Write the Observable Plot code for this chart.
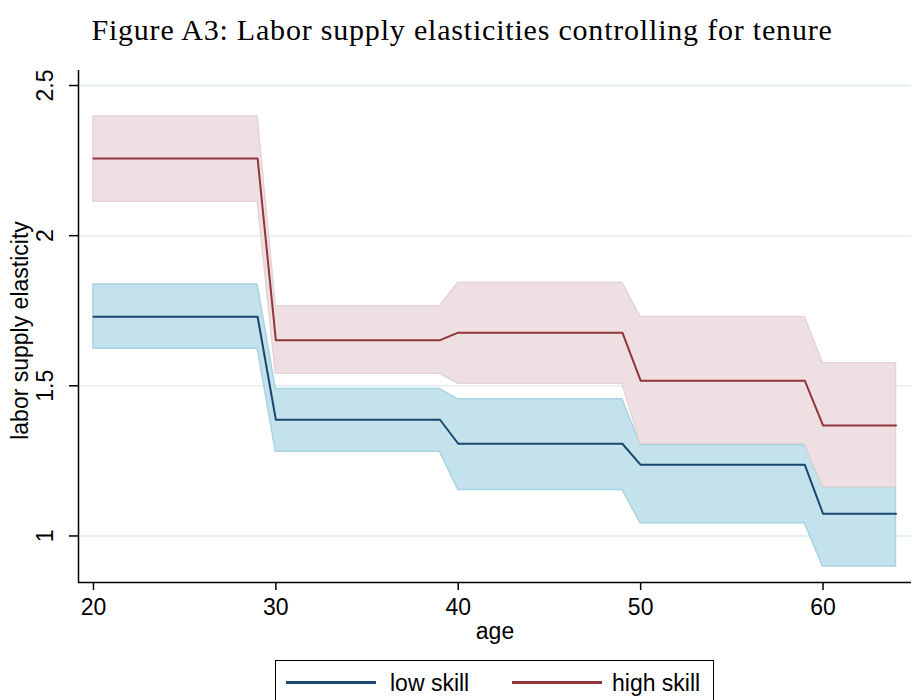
<!DOCTYPE html>
<html>
<head>
<meta charset="utf-8">
<script src="https://cdn.jsdelivr.net/npm/d3@7"></script>
<script src="https://cdn.jsdelivr.net/npm/@observablehq/plot@0.6"></script>
<style>
  html, body { margin: 0; padding: 0; background: #fff; }
  #wrap { position: relative; width: 924px; height: 700px; overflow: hidden; background: #fff; }
  #title { position: absolute; left: 0; top: 10px; width: 924px; text-align: center;
           font-family: "Liberation Serif", "DejaVu Serif", serif; font-size: 30px; line-height: 40px;
           letter-spacing: 0.8px; color: #000; }
  #chart { position: absolute; left: 0; top: 60px; }
  #legend { position: absolute; left: 275px; top: 660px; width: 439px; height: 60px;
            border: 1.5px solid #000; box-sizing: border-box; background: #fff;
            font-family: "Liberation Sans", Arial, sans-serif; font-size: 23px; color: #000; }
  .item { position: absolute; top: 10px; height: 24px; line-height: 24px; }
  .sw { position: absolute; top: 10px; width: 90px; height: 2.5px; }
</style>
</head>
<body>
<div id="wrap">
  <div id="title">Figure A3: Labor supply elasticities controlling for tenure</div>
  <div id="chart"></div>
  <div id="legend"></div>
</div>
<script>
// ---- data ----
const seriesNames = ["low skill", "high skill"];
const segStart = [20, 30, 40, 50, 60];
const segEnd   = [29, 39, 49, 59, 64];

const lowEst   = [1.730, 1.387, 1.307, 1.237, 1.074];
const lowUpper = [1.837, 1.489, 1.455, 1.303, 1.160];
const lowLower = [1.623, 1.280, 1.153, 1.042, 0.898];

const highEst   = [2.257, 1.652, 1.677, 1.517, 1.368];
const highUpper = [2.397, 1.765, 1.843, 1.729, 1.575];
const highLower = [2.113, 1.540, 1.507, 1.307, 1.162];

const xTicks = [20, 30, 40, 50, 60];
const yTicks = [1, 1.5, 2, 2.5];
const yTickLabels = ["1", "1.5", "2", "2.5"];
const xDomain = [19.18, 64.85];
const yDomain = [0.845, 2.55];

const colors = { low: "#1a476f", high: "#90353b" };
const fills = { low: "#c3e2eb", high: "#eee0e2" };
const edges = { low: "#a8d4e1", high: "#e6d3d6" };

function build(est, up, lo) {
  return segStart.flatMap((s, i) => [
    { age: s, est: est[i], hi: up[i], lo: lo[i] },
    { age: segEnd[i], est: est[i], hi: up[i], lo: lo[i] }
  ]);
}
const lowData = build(lowEst, lowUpper, lowLower);
const highData = build(highEst, highUpper, highLower);

const font = "Liberation Sans, Arial, sans-serif";

const chart = Plot.plot({
  width: 924,
  height: 590,
  marginLeft: 78,
  marginRight: 13,
  marginTop: 10,
  marginBottom: 68,
  style: { fontFamily: font, background: "#fff" },
  x: { domain: xDomain, axis: null },
  y: { domain: yDomain, axis: null },
  marks: [
    Plot.gridY(yTicks, { stroke: "#e6f0f2", strokeOpacity: 1, strokeWidth: 2 }),
    Plot.areaY(lowData, { x: "age", y1: "lo", y2: "hi", fill: fills.low, stroke: edges.low, strokeWidth: 1.5 }),
    Plot.areaY(highData, { x: "age", y1: "lo", y2: "hi", fill: fills.high, stroke: edges.high, strokeWidth: 1.5 }),
    Plot.line(lowData, { x: "age", y: "est", stroke: colors.low, strokeWidth: 2 }),
    Plot.line(highData, { x: "age", y: "est", stroke: colors.high, strokeWidth: 2 }),
    Plot.ruleX([xDomain[0]], { stroke: "#000", strokeWidth: 1.5 }),
    Plot.ruleY([yDomain[0]], { stroke: "#000", strokeWidth: 1.5 }),
    Plot.axisY(yTicks, { anchor: "left", tickSize: 9, tickFormat: () => "", stroke: "#000", strokeWidth: 1.5, label: null }),
    Plot.text(yTicks, { y: d => d, frameAnchor: "left", dx: -33, rotate: -90, textAnchor: "middle",
                        text: (d, i) => yTickLabels[i], fontSize: 23, fill: "#000" }),
    Plot.axisX(xTicks, { anchor: "bottom", tickSize: 8, tickPadding: 8, fontSize: 23, stroke: "#000", strokeWidth: 1.5, fill: "#000", label: null }),
    Plot.text(["age"], { frameAnchor: "bottom", dy: 56, text: d => d, fontSize: 23, fill: "#000" }),
    Plot.text(["labor supply elasticity"], { frameAnchor: "left", dx: -58, dy: 4, rotate: -90, textAnchor: "middle", text: d => d, fontSize: 23, fill: "#000" })
  ]
});
document.getElementById("chart").appendChild(chart);

// legend
const legend = document.getElementById("legend");
const items = [
  { name: seriesNames[0], color: colors.low, swLeft: 10, txtLeft: 114 },
  { name: seriesNames[1], color: colors.high, swLeft: 236, txtLeft: 336 }
];
items.forEach(it => {
  const sw = document.createElement("div");
  sw.className = "sw";
  sw.style.left = it.swLeft + "px";
  sw.style.top = "20px";
  sw.style.background = it.color;
  legend.appendChild(sw);
  const t = document.createElement("div");
  t.className = "item";
  t.style.left = it.txtLeft + "px";
  t.style.top = "10px";
  t.textContent = it.name;
  legend.appendChild(t);
});
</script>
</body>
</html>
